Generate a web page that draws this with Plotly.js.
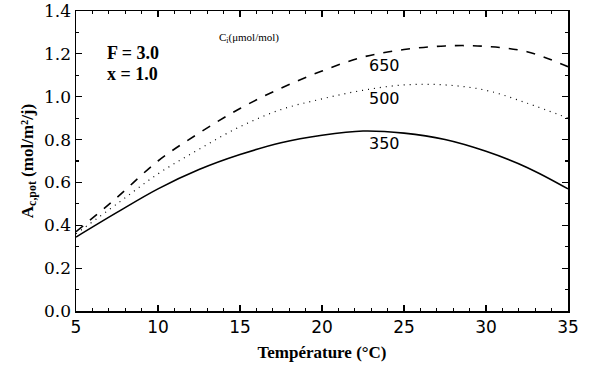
<!DOCTYPE html>
<html><head><meta charset="utf-8">
<script src="https://cdn.plot.ly/plotly-3.0.1.min.js"></script>
<style>html,body{margin:0;padding:0;background:#fff}#c{width:591px;height:378px}</style>
</head><body><div id="c"></div>
<script>
const temps = [5, 7.5, 10, 12.5, 15, 17.5, 20, 22.5, 25, 27.5, 30, 32.5, 35];
const ci350 = [0.345, 0.46, 0.57, 0.66, 0.73, 0.785, 0.82, 0.84, 0.83, 0.80, 0.745, 0.67, 0.57];
const ci500 = [0.36, 0.50, 0.64, 0.755, 0.86, 0.94, 0.99, 1.03, 1.055, 1.055, 1.03, 0.97, 0.90];
const ci650 = [0.37, 0.53, 0.70, 0.83, 0.945, 1.04, 1.12, 1.185, 1.22, 1.237, 1.235, 1.21, 1.14];
const seriesLabels = ['350', '500', '650'];
const labelPos = [[23.8, 0.78], [23.8, 0.993], [23.8, 1.148]];

const base = {type: 'scatter', mode: 'lines', x: temps, showlegend: false, hoverinfo: 'skip'};
const data = [
  Object.assign({}, base, {y: ci350, line: {color: '#000', width: 1.6, shape: 'spline'}}),
  Object.assign({}, base, {y: ci500, line: {color: '#000', width: 1.2, dash: '1px,5px', shape: 'spline'}}),
  Object.assign({}, base, {y: ci650, line: {color: '#000', width: 1.6, dash: '9px,9px', shape: 'spline'}})
];

const annotations = seriesLabels.map((t, i) => ({
  x: labelPos[i][0], y: labelPos[i][1], xref: 'x', yref: 'y', text: t, showarrow: false,
  font: {family: 'DejaVu Sans, sans-serif', size: 16, color: '#000'}
}));
annotations.push(
  {xref: 'paper', yref: 'paper', x: 0.059, y: 0.9, xanchor: 'left', text: '<b>F = 3.0</b>', showarrow: false,
   font: {family: 'Liberation Serif, Times New Roman, serif', size: 18, color: '#000'}},
  {xref: 'paper', yref: 'paper', x: 0.059, y: 0.83, xanchor: 'left', text: '<b>x = 1.0</b>', showarrow: false,
   font: {family: 'Liberation Serif, Times New Roman, serif', size: 18, color: '#000'}},
  {xref: 'paper', yref: 'paper', x: 0.287, y: 0.94, xanchor: 'left', text: 'C<sub>i</sub>(μmol/mol)', showarrow: false,
   font: {family: 'Liberation Serif, Times New Roman, serif', size: 11, color: '#000'}}
);

const layout = {
  width: 591, height: 378,
  margin: {l: 76, r: 23, t: 11, b: 67},
  paper_bgcolor: '#fff', plot_bgcolor: '#fff',
  xaxis: {
    range: [5, 35], tickvals: [5, 10, 15, 20, 25, 30, 35], ticktext: ['5', '10', '15', '20', '25', '30', '35'],
    ticks: 'inside', ticklen: 6, tickwidth: 1.2, tickcolor: '#000',
    minor: {dtick: 1, ticks: 'inside', ticklen: 3, tickcolor: '#000', showgrid: false},
    showline: true, linecolor: '#000', linewidth: 1.5, mirror: 'allticks', showgrid: false, zeroline: false,
    tickfont: {family: 'DejaVu Sans, sans-serif', size: 17, color: '#000'},
    title: {text: '<b>Température (°C)</b>', font: {family: 'Liberation Serif, Times New Roman, serif', size: 17, color: '#000'}, standoff: 10}
  },
  yaxis: {
    range: [0, 1.4], tickvals: [0, 0.2, 0.4, 0.6, 0.8, 1.0, 1.2, 1.4], ticktext: ['0.0', '0.2', '0.4', '0.6', '0.8', '1.0', '1.2', '1.4'],
    ticks: 'inside', ticklen: 6, tickwidth: 1.2, tickcolor: '#000',
    minor: {dtick: 0.1, ticks: 'inside', ticklen: 3, tickcolor: '#000', showgrid: false},
    showline: true, linecolor: '#000', linewidth: 1.5, mirror: 'allticks', showgrid: false, zeroline: false,
    tickfont: {family: 'DejaVu Serif, serif', size: 17, color: '#000'},
    title: {text: '<b>A<sub>c,pot</sub> (mol/m²/j)</b>', font: {family: 'Liberation Serif, Times New Roman, serif', size: 17, color: '#000'}, standoff: 6}
  },
  annotations: annotations
};
Plotly.newPlot('c', data, layout, {displayModeBar: false, staticPlot: true});
</script></body></html>
